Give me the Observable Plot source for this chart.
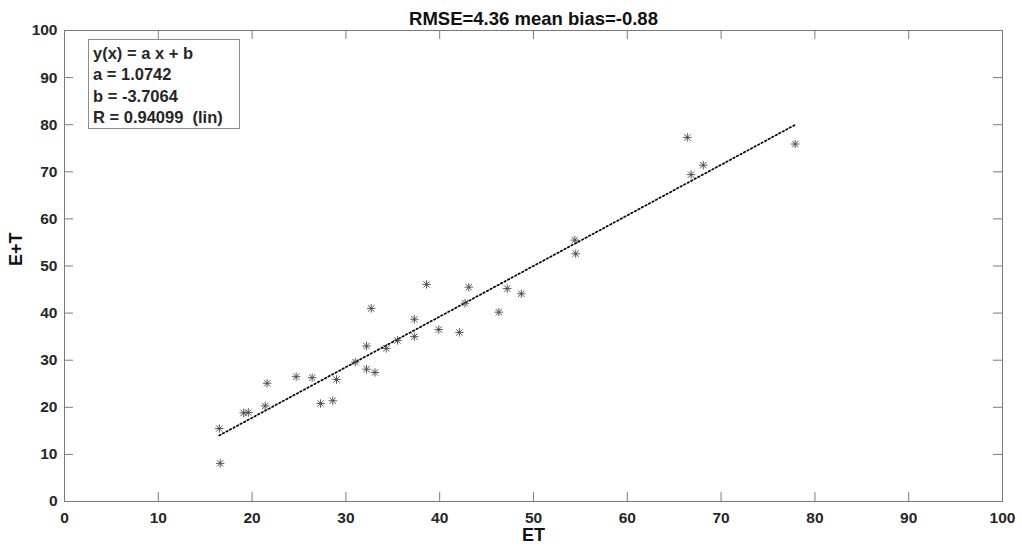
<!DOCTYPE html>
<html>
<head>
<meta charset="utf-8">
<script src="https://cdn.jsdelivr.net/npm/d3@7"></script>
<script src="https://cdn.jsdelivr.net/npm/@observablehq/plot@0.6"></script>
<style>
  html, body { margin: 0; padding: 0; background: #fff; }
  #wrap { position: relative; width: 1022px; height: 553px; font-family: "Liberation Sans", Arial, sans-serif; }
  #box { position: absolute; left: 88px; top: 39px; width: 152px; height: 90px; border: 1px solid #8c8c8c; background: #fff;
         box-sizing: border-box; padding: 3px 0 0 4px; font-weight: bold; font-size: 16.5px; line-height: 21.3px; color: #262626; white-space: pre; }
</style>
</head>
<body>
<div id="wrap"><div id="box"></div></div>
<script>
// Data
const et  = [16.5, 16.6, 19.1, 19.6, 21.4, 21.6, 24.7, 26.4, 27.3, 28.6, 29.0, 31.0, 32.2, 32.2, 32.7, 33.1, 34.3, 35.5, 37.3, 37.3, 38.6, 39.9, 42.1, 42.7, 43.1, 46.3, 47.2, 48.7, 54.4, 54.5, 66.4, 66.8, 68.1, 77.9];
const etp = [15.5,  8.1, 18.8, 18.9, 20.3, 25.1, 26.5, 26.3, 20.8, 21.4, 25.9, 29.6, 33.0, 28.1, 41.0, 27.4, 32.5, 34.2, 38.7, 35.0, 46.1, 36.5, 35.9, 42.1, 45.5, 40.2, 45.2, 44.1, 55.5, 52.6, 77.3, 69.4, 71.4, 75.9];
const fitA = 1.0742;
const fitB = -3.7064;
const fitR = 0.94099;
const xTicks = [0, 10, 20, 30, 40, 50, 60, 70, 80, 90, 100];
const yTicks = [0, 10, 20, 30, 40, 50, 60, 70, 80, 90, 100];
const titleText = "RMSE=4.36 mean bias=-0.88";
const xLabel = "ET";
const yLabel = "E+T";
const boxLines = ["y(x) = a x + b", "a = " + fitA, "b = " + fitB, "R = " + fitR + "  (lin)"];

const points = et.map((x, i) => ({x, y: etp[i]}));
const xMin = d3.min(et), xMax = d3.max(et);
const fitLine = [xMin, xMax].map(x => ({x, y: fitA * x + fitB}));

const asterisk = {
  draw(ctx, size) {
    const r = Math.sqrt(size / Math.PI);
    const d = r * 0.75;
    ctx.moveTo(-r, 0); ctx.lineTo(r, 0);
    ctx.moveTo(0, -r); ctx.lineTo(0, r);
    ctx.moveTo(-d, -d); ctx.lineTo(d, d);
    ctx.moveTo(-d, d); ctx.lineTo(d, -d);
  }
};

const W = 1022, H = 553, mL = 64, mR = 20, mT = 30, mB = 52;
const frameW = W - mL - mR, frameH = H - mT - mB;
const tickLen = 9;
const axisColor = "#7a7a7a";
const textColor = "#262626";

const chart = Plot.plot({
  width: W,
  height: H,
  marginLeft: mL,
  marginRight: mR,
  marginTop: mT,
  marginBottom: mB,
  style: {fontFamily: "'Liberation Sans', Arial, sans-serif", background: "transparent"},
  x: {domain: [0, 100]},
  y: {domain: [0, 100]},
  marks: [
    // inward ticks on all four sides
    Plot.tickX(xTicks, {x: d => d, insetTop: frameH - tickLen, stroke: axisColor}),
    Plot.tickX(xTicks, {x: d => d, insetBottom: frameH - tickLen, stroke: axisColor}),
    Plot.tickY(yTicks, {y: d => d, insetRight: frameW - tickLen, stroke: axisColor}),
    Plot.tickY(yTicks, {y: d => d, insetLeft: frameW - tickLen, stroke: axisColor}),
    Plot.frame({stroke: axisColor}),
    // tick labels
    Plot.axisX({anchor: "bottom", ticks: xTicks, tickSize: 0, tickPadding: 10, fontSize: 15.5, fontWeight: "bold", fill: textColor, label: null}),
    Plot.axisY({anchor: "left", ticks: yTicks, tickSize: 0, tickPadding: 7, fontSize: 15.5, fontWeight: "bold", fill: textColor, label: null}),
    // fit line (dotted)
    Plot.line(fitLine, {x: "x", y: "y", stroke: "#000", strokeWidth: 1.7, strokeDasharray: "1.6,2.4"}),
    // data points
    Plot.dot(points, {x: "x", y: "y", r: 4.2, symbol: asterisk, stroke: "#444", strokeWidth: 0.9}),
    // title and axis labels
    Plot.text([titleText], {frameAnchor: "top", dy: -19, fontSize: 18.5, fontWeight: "bold", fill: "#111"}),
    Plot.text([xLabel], {frameAnchor: "bottom", dy: 39, fontSize: 18, fontWeight: "bold", fill: "#111"}),
    Plot.text([yLabel], {frameAnchor: "left", dx: -48, rotate: -90, fontSize: 18, fontWeight: "bold", fill: "#111"})
  ]
});

const wrap = document.getElementById("wrap");
wrap.insertBefore(chart, wrap.firstChild);
document.getElementById("box").textContent = boxLines.join("\n");
</script>
</body>
</html>
